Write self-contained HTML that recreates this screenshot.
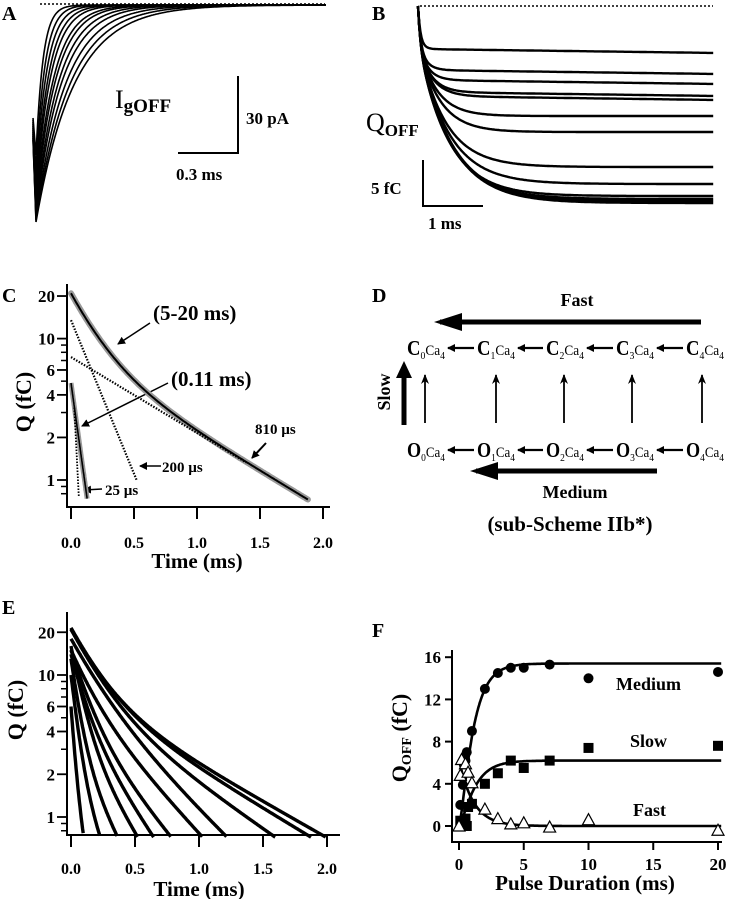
<!DOCTYPE html>
<html><head><meta charset="utf-8"><style>
html,body{margin:0;padding:0;background:#fff;}
svg{display:block;font-family:"Liberation Serif",serif;}
.b{font-weight:bold;}
</style></head><body>
<svg id="fig" width="729" height="899" viewBox="0 0 729 899" xmlns="http://www.w3.org/2000/svg">
<defs>
<marker id="ah" markerWidth="8" markerHeight="8" refX="7" refY="4" orient="auto" markerUnits="userSpaceOnUse"><path d="M0,0 L8,4 L0,8 z" fill="#000"/></marker>
<marker id="ah2" markerWidth="10" markerHeight="10" refX="9" refY="5" orient="auto" markerUnits="userSpaceOnUse"><path d="M0,1 L10,5 L0,9 L3,5 z" fill="#000"/></marker>
</defs>
<text x="2" y="20" font-size="20" class="b">A</text>
<text x="372" y="20" font-size="20" class="b">B</text>
<text x="2" y="302" font-size="20" class="b">C</text>
<text x="372" y="302" font-size="20" class="b">D</text>
<text x="2" y="614" font-size="20" class="b">E</text>
<text x="372" y="637" font-size="20" class="b">F</text>

<g id="pa">
<line x1="40" y1="4" x2="325" y2="4" stroke="#000" stroke-width="1.5" stroke-dasharray="2,2"/>
<line x1="238" y1="76" x2="238" y2="154" stroke="#000" stroke-width="2"/>
<line x1="178" y1="153" x2="239" y2="153" stroke="#000" stroke-width="2"/>
<text x="115" y="108" font-size="26">I<tspan font-size="19" dy="4" class="b">gOFF</tspan></text>
<text x="246" y="124" font-size="17" class="b">30 pA</text>
<text x="176" y="180" font-size="17" class="b">0.3 ms</text>
</g>

<g id="pb">
<line x1="420" y1="6" x2="713" y2="6" stroke="#000" stroke-width="1.5" stroke-dasharray="2,2"/>
<line x1="423" y1="160" x2="423" y2="207" stroke="#000" stroke-width="2"/>
<line x1="422" y1="206" x2="483" y2="206" stroke="#000" stroke-width="2"/>
<text x="366" y="131" font-size="26">Q<tspan font-size="17" dy="5" class="b">OFF</tspan></text>
<text x="371" y="194" font-size="17" class="b">5 fC</text>
<text x="428" y="229" font-size="17" class="b">1 ms</text>
</g>

<g id="pc">
<text x="0" y="0" font-size="22" class="b" transform="translate(31,402) rotate(-90)" text-anchor="middle">Q (fC)</text>
<text x="197" y="568" font-size="21" class="b" text-anchor="middle">Time (ms)</text>
<text x="153" y="320" font-size="21" class="b">(5-20 ms)</text>
<line x1="150" y1="323" x2="118" y2="344" stroke="#000" stroke-width="1.5" marker-end="url(#ah)"/>
<text x="171" y="386" font-size="21" class="b">(0.11 ms)</text>
<line x1="168" y1="383" x2="82" y2="426" stroke="#000" stroke-width="1.5" marker-end="url(#ah)"/>
<text x="255" y="434" font-size="15" class="b">810 µs</text>
<line x1="266" y1="443" x2="252" y2="458" stroke="#000" stroke-width="2" marker-end="url(#ah)"/>
<text x="162" y="472" font-size="15" class="b">200 µs</text>
<line x1="161" y1="466" x2="140" y2="466" stroke="#000" stroke-width="1.5" marker-end="url(#ah)"/>
<text x="105" y="495" font-size="15" class="b">25 µs</text>
<line x1="102" y1="489" x2="84" y2="490" stroke="#000" stroke-width="1.5" marker-end="url(#ah)"/>
</g>

<g id="pd">
<text x="577" y="306" font-size="18" class="b" text-anchor="middle">Fast</text>
<line x1="701" y1="322" x2="440" y2="322" stroke="#000" stroke-width="5"/>
<path d="M434,322 L462,313 L462,331 z" fill="#000"/>
<line x1="657" y1="471" x2="476" y2="471" stroke="#000" stroke-width="5"/>
<path d="M470,471 L498,462 L498,480 z" fill="#000"/>
<text x="575" y="498" font-size="18" class="b" text-anchor="middle">Medium</text>
<line x1="404" y1="425" x2="404" y2="375" stroke="#000" stroke-width="5"/>
<path d="M404,361 L396,378 L412,378 z" fill="#000"/>
<text x="0" y="0" font-size="18" class="b" transform="translate(390,392) rotate(-90)" text-anchor="middle">Slow</text>
<text x="570" y="531" font-size="21" class="b" text-anchor="middle">(sub-Scheme IIb*)</text>
</g>

<g id="pe">
<text x="0" y="0" font-size="22" class="b" transform="translate(23,710) rotate(-90)" text-anchor="middle">Q (fC)</text>
<text x="199" y="896" font-size="21" class="b" text-anchor="middle">Time (ms)</text>
</g>

<g id="pf">
<text x="0" y="0" font-size="22" class="b" transform="translate(407,738) rotate(-90)" text-anchor="middle">Q<tspan font-size="14" dy="4">OFF</tspan><tspan dy="-4"> (fC)</tspan></text>
<text x="585" y="890" font-size="21" class="b" text-anchor="middle">Pulse Duration (ms)</text>
<text x="616" y="690" font-size="18" class="b">Medium</text>
<text x="630" y="747" font-size="18" class="b">Slow</text>
<text x="633" y="816" font-size="18" class="b">Fast</text>
</g>
</svg>
<script>
// ---------- Data ----------
const aTaus = [0.035,0.045,0.055,0.065,0.075,0.09,0.1,0.115,0.13,0.15,0.17,0.19];
const aDepths = [150,165,175,185,190,195,200,205,208,212,215,217];
const bLevels = [43,64,74,86,90,110,126,161,178,190,193,195,197];
const bTaus = [0.08,0.12,0.15,0.2,0.22,0.3,0.35,0.45,0.5,0.5,0.52,0.55,0.55];
const cMainAmps = [13.5,7.4];
const cMainTaus = [0.2,0.81];
const cFastAmp = [4.85];
const cFastTau = [0.068];
const cYTicks = [20,10,6,4,2,1];
const cXTicks = [0,0.5,1.0,1.5,2.0];
const eAmp1 = [4.5,8,10,12,9,10,8,10,14,14,13.5];
const eTau1 = [0.03,0.05,0.06,0.08,0.1,0.12,0.15,0.2,0.2,0.2,0.2];
const eAmp2 = [1.5,2,3,4,5,5,7,8,7,7.5,7.5];
const eTau2 = [0.1,0.2,0.25,0.3,0.33,0.4,0.45,0.5,0.7,0.8,0.85];
const fMedX = [0.1,0.2,0.3,0.5,0.6,1,2,3,4,5,7,10,20];
const fMedY = [2,0.2,3.9,6.2,7,9,13,14.5,15,15,15.3,14,14.6];
const fSlowX = [0.1,0.3,0.5,0.6,0.7,1,2,3,4,5,7,10,20];
const fSlowY = [0.5,0,0.7,0,1.8,2.1,4,5,6.2,5.5,6.2,7.4,7.6];
const fFastX = [0,0.1,0.2,0.5,0.7,1,2,3,4,5,7,10,20];
const fFastY = [0,4.8,6.3,5.9,5.1,4.1,1.6,0.7,0.2,0.3,-0.1,0.6,-0.4];
const fYTicks = [0,4,8,12,16];
const fXTicks = [0,5,10,15,20];

const NS = "http://www.w3.org/2000/svg";
function mk(parent, tag, attrs, txt){
  const e = document.createElementNS(NS, tag);
  for (const k in attrs) e.setAttribute(k, attrs[k]);
  if (txt !== undefined) e.textContent = txt;
  parent.appendChild(e);
  return e;
}
function pathD(pts){ return pts.map((p,i)=>(i?"L":"M")+p[0].toFixed(1)+","+p[1].toFixed(1)).join(""); }

// ---------- Panel A ----------
const pa = document.getElementById("pa");
const ax = t => 36 + t*200;
aTaus.forEach((tau,i)=>{
  const pts = [[33,118+i*2],[36,222-(217-aDepths[i])]];
  const peak = aDepths[i];
  for (let t=0.005; t<=1.45; t+=0.005){
    pts.push([ax(t), 5 + peak*Math.exp(-t/tau)]);
  }
  const p = mk(pa,"path",{d:pathD(pts),fill:"none",stroke:"#000","stroke-width":1.6});
  
  
});

// ---------- Panel B ----------
const pb = document.getElementById("pb");
const bx = t => 418 + t*60;
bLevels.forEach((L,i)=>{
  const pts=[];
  const F = 36;
  for (let t=0; t<=4.92; t+=0.02){
    const fast = Math.min(F,L)*(1-Math.exp(-t/0.04));
    const med = Math.max(0,L-F)*(1-Math.exp(-t/bTaus[i]));
    pts.push([bx(t), 6 + fast + med + (L>100? 0 : t*0.8)]);
  }
  const p = mk(pb,"path",{d:pathD(pts),fill:"none",stroke:"#000","stroke-width":2.4});
  
  
});

// ---------- Log axes helper ----------
function logAxis(g, X, Y, ticks, xticks, yTop, yBot, xRight, axisY, labelY, name){
  const yl = mk(g,"line",{x1:67,y1:yTop,x2:67,y2:axisY,stroke:"#000","stroke-width":2});
  
  
  const xl = mk(g,"line",{x1:66,y1:axisY,x2:xRight,y2:axisY,stroke:"#000","stroke-width":2});
  
  
  const minors=[0.8,0.9,3,5,7,8,9,30];
  minors.forEach(v=>{ const y=Y(v); if(y>yBot+2||y<yTop) return;
    const l=mk(g,"line",{x1:61,y1:y,x2:67,y2:y,stroke:"#000","stroke-width":1.5});
    
    
  });
  ticks.forEach(v=>{ const y=Y(v);
    const l=mk(g,"line",{x1:57,y1:y,x2:67,y2:y,stroke:"#000","stroke-width":1.8});
    
    
    const t=mk(g,"text",{x:55,y:y+6,"font-size":17,"font-weight":"bold","text-anchor":"end"},String(v));
    
    
  });
  xticks.forEach(v=>{ const x=X(v);
    const l=mk(g,"line",{x1:x,y1:axisY,x2:x,y2:axisY+12,stroke:"#000","stroke-width":2});
    
    
    const t=mk(g,"text",{x:x,y:labelY,"font-size":16,"font-weight":"bold","text-anchor":"middle"},v.toFixed(1));
    
    
  });
}

// ---------- Panel C ----------
const pc = document.getElementById("pc");
const cX = t => 71 + t*126;
const cY = v => 480 - 141.4*Math.log10(v);
logAxis(pc, cX, cY, cYTicks, cXTicks, 284, 505, 330, 507, 548, 'c');
function series(amps,taus,t0,t1,dt){
  const pts=[];
  for(let t=t0;t<=t1;t+=dt){ let q=0; amps.forEach((a,k)=>q+=a*Math.exp(-t/taus[k])); if(q<0.72)break; pts.push([cX(t),cY(q)]); }
  return pts;
}
{
  const main = series(cMainAmps,cMainTaus,0,1.96,0.01);
  let p = mk(pc,"path",{d:pathD(main),fill:"none",stroke:"#999","stroke-width":6,"stroke-linecap":"round"});
  
  
  p = mk(pc,"path",{d:pathD(main),fill:"none",stroke:"#000","stroke-width":2});
  
  
  const c1 = series([cMainAmps[0]],[cMainTaus[0]],0,0.53,0.01);
  p = mk(pc,"path",{d:pathD(c1),fill:"none",stroke:"#000","stroke-width":2.2,"stroke-dasharray":"1.5,1.5"});
  
  
  const c2 = series([cMainAmps[1]],[cMainTaus[1]],0,1.4,0.01);
  p = mk(pc,"path",{d:pathD(c2),fill:"none",stroke:"#000","stroke-width":2.2,"stroke-dasharray":"1.5,1.5"});
  
  
  const f = series(cFastAmp,cFastTau,0,0.2,0.002);
  p = mk(pc,"path",{d:pathD(f),fill:"none",stroke:"#999","stroke-width":5});
  
  
  p = mk(pc,"path",{d:pathD(f),fill:"none",stroke:"#000","stroke-width":1.6});
  
  
  const f2 = series([cFastAmp[0]],[0.025],0.01,0.1,0.002).map(q=>[q[0]+2,q[1]]);
  p = mk(pc,"path",{d:pathD(f2),fill:"none",stroke:"#000","stroke-width":1.8,"stroke-dasharray":"1.5,1.5"});
  
  
}

// ---------- Panel D ----------
const pd = document.getElementById("pd");
const stateX = [407,477,546,616,686];
const vArrX = [425,496,564,632,702];
[["C",355],["O",457]].forEach(([s,y])=>{
  stateX.forEach((x,i)=>{
    const t = mk(pd,"text",{x:x,y:y,"font-size":18,textLength:38,lengthAdjust:"spacingAndGlyphs"});
    
    
    mk(t,"tspan",{"font-size":21,"font-weight":"bold"},s);
    mk(t,"tspan",{"font-size":11,dy:4},String(i));
    mk(t,"tspan",{"font-size":15,dy:-4},"Ca");
    mk(t,"tspan",{"font-size":11,dy:4},"4");
  });
  for (let i=0;i<stateX.length-1;i++){
    const l=mk(pd,"line",{x1:stateX[i+1]-3,y1:y-7,x2:stateX[i]+41,y2:y-7,stroke:"#000","stroke-width":2.2,"marker-end":"url(#ah)"});
    
    
  }
});
vArrX.forEach(x=>{
  const l=mk(pd,"line",{x1:x,y1:423,x2:x,y2:375,stroke:"#000","stroke-width":1.8,"marker-end":"url(#ah2)"});
  
  
});

// ---------- Panel E ----------
const pe = document.getElementById("pe");
const eX = t => 71 + t*128;
const eY = v => 817 - 142*Math.log10(v);
logAxis(pe, eX, eY, cYTicks, cXTicks, 612, 832, 340, 835, 874, 'e');
eAmp1.forEach((a1,i)=>{
  const pts=[];
  for(let t=0;t<=2.2;t+=0.005){ const q=a1*Math.exp(-t/eTau1[i])+eAmp2[i]*Math.exp(-t/eTau2[i]); if(q<0.72)break; pts.push([eX(t),eY(q)]); }
  const p=mk(pe,"path",{d:pathD(pts),fill:"none",stroke:"#000","stroke-width":3.4});
  
  
});

// ---------- Panel F ----------
const pf = document.getElementById("pf");
const fX = t => 459 + t*12.95;
const fY = v => 826 - v*10.55;
{
  let l=mk(pf,"line",{x1:452,y1:650,x2:452,y2:843,stroke:"#000","stroke-width":2});
  
  
  l=mk(pf,"line",{x1:451,y1:842,x2:722,y2:842,stroke:"#000","stroke-width":2});
  
  
}
fYTicks.forEach(v=>{
  const l=mk(pf,"line",{x1:445,y1:fY(v),x2:452,y2:fY(v),stroke:"#000","stroke-width":2});
  
  
  const t=mk(pf,"text",{x:441,y:fY(v)+6,"font-size":17,"font-weight":"bold","text-anchor":"end"},String(v));
  
  
});
fXTicks.forEach(v=>{
  const l=mk(pf,"line",{x1:fX(v),y1:842,x2:fX(v),y2:850,stroke:"#000","stroke-width":2});
  
  
  const t=mk(pf,"text",{x:fX(v),y:870,"font-size":17,"font-weight":"bold","text-anchor":"middle"},String(v));
  
  
});
function fitCurve(fn,name){
  const pts=[]; for(let t=0;t<=20.3;t+=0.05) pts.push([fX(t),fY(fn(t))]);
  const p=mk(pf,"path",{d:pathD(pts),fill:"none",stroke:"#000","stroke-width":2.6});
  
  
}
fitCurve(t=>15.4*Math.pow(1-Math.exp(-t/0.9),1.5),'fit-medium');
fitCurve(t=>6.2*Math.pow(1-Math.exp(-t/1.0),1.5),'fit-slow');
fitCurve(t=>6.3*Math.exp(-t/1.1),'fit-fast');
fMedX.forEach((x,i)=>{
  const c=mk(pf,"circle",{cx:fX(x),cy:fY(fMedY[i]),r:5,fill:"#000"});
  
  
});
fSlowX.forEach((x,i)=>{
  const r=mk(pf,"rect",{x:fX(x)-5,y:fY(fSlowY[i])-5,width:10,height:10,fill:"#000"});
  
  
});
fFastX.forEach((x,i)=>{
  const cx=fX(x), cy=fY(fFastY[i]);
  const p=mk(pf,"path",{d:`M${cx},${cy-6}L${cx+6},${cy+5}L${cx-6},${cy+5}z`,fill:"#fff",stroke:"#000","stroke-width":1.2});
  
  
});
</script>
</body></html>
